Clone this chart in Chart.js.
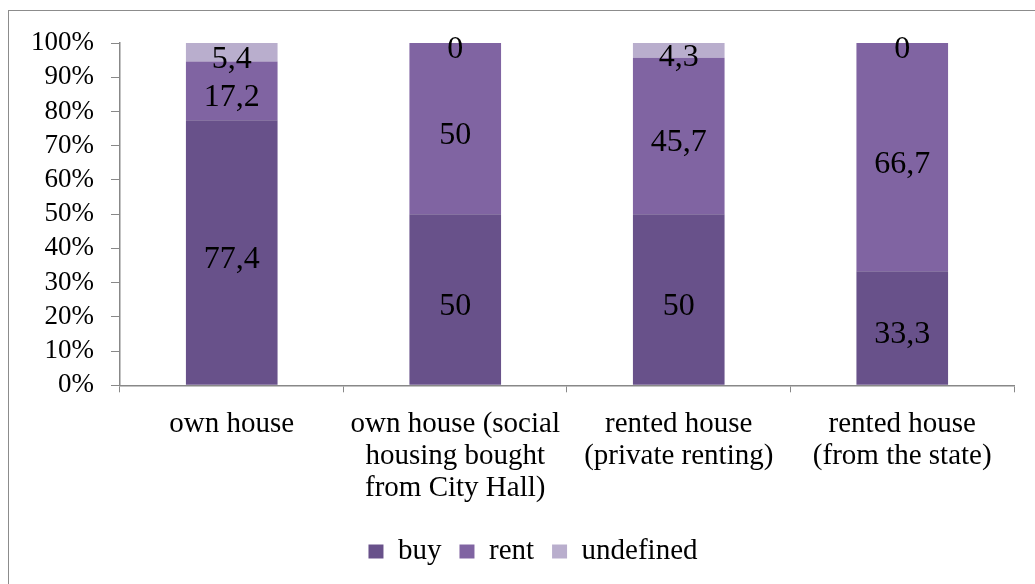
<!DOCTYPE html>
<html>
<head>
<meta charset="utf-8">
<script src="https://cdn.jsdelivr.net/npm/chart.js@4.4.0/dist/chart.umd.min.js"></script>
<style>
  html,body{margin:0;padding:0;background:#fff;overflow:hidden}
  #frame{position:absolute;left:8px;top:10px;width:1040px;height:590px;border:1.5px solid #8c8c8c;box-sizing:border-box}
  #c{position:absolute;left:0;top:0}
</style>
</head>
<body>
<div id="frame"></div>
<canvas id="c" width="1035" height="584"></canvas>
<script>
const categories = [
  'own house',
  ['own house (social', 'housing bought', 'from City Hall)'],
  ['rented house', '(private renting)'],
  ['rented house', '(from the state)']
];
const buy = [77.4, 50, 50, 33.3];
const rent = [17.2, 50, 45.7, 66.7];
const undef = [5.4, 0, 4.3, 0];
const yTicks = [0, 10, 20, 30, 40, 50, 60, 70, 80, 90, 100];

const FONT = '"Liberation Serif", "Times New Roman", serif';
const fmt = (v) => String(v).replace('.', ',');

// draws the value of each segment in its middle
const segLabels = {
  id: 'segLabels',
  afterLayout(chart) {
    // legend sits a little right of centre in the original
    chart.legend.left += 38;
  },
  afterDatasetsDraw(chart) {
    const ctx = chart.ctx;
    ctx.save();
    ctx.font = '32px ' + FONT;
    ctx.fillStyle = '#000';
    ctx.textAlign = 'center';
    ctx.textBaseline = 'middle';
    chart.data.datasets.forEach((ds, i) => {
      const meta = chart.getDatasetMeta(i);
      meta.data.forEach((bar, j) => {
        const p = bar.getProps(['x', 'y', 'base'], true);
        ctx.fillText(fmt(ds.data[j]), p.x, (p.y + p.base) / 2 + 7);
      });
    });
    ctx.restore();
  }
};

Chart.defaults.font.family = FONT;
Chart.defaults.color = '#000';

new Chart(document.getElementById('c'), {
  type: 'bar',
  data: {
    labels: categories,
    datasets: [
      { label: 'buy', data: buy, backgroundColor: '#68518a' },
      { label: 'rent', data: rent, backgroundColor: '#8064a2' },
      { label: 'undefined', data: undef, backgroundColor: '#b9aecd' }
    ]
  },
  options: {
    responsive: false,
    animation: false,
    barPercentage: 0.41,
    categoryPercentage: 1,
    layout: { padding: { top: 43, left: 14, right: 21, bottom: 8 } },
    plugins: {
      legend: {
        position: 'bottom',
        labels: { font: { size: 29 }, boxWidth: 15, boxHeight: 14, padding: 18 }
      },
      tooltip: { enabled: false }
    },
    scales: {
      x: {
        stacked: true,
        afterFit: (ax) => { ax.height -= 1; },
        grid: { drawOnChartArea: false, tickLength: 7, color: '#888', offset: true },
        border: { color: '#888', width: 1.5 },
        ticks: { font: { size: 29, lineHeight: 1.1 }, padding: 16, maxRotation: 0 }
      },
      y: {
        stacked: true,
        min: 0,
        max: 100,
        afterBuildTicks: (ax) => { ax.ticks = yTicks.map(v => ({ value: v })); },
        grid: { drawOnChartArea: false, tickLength: 9, color: '#888' },
        border: { color: '#888', width: 1.5 },
        ticks: { font: { size: 27 }, padding: 17, autoSkip: false, callback: (v) => v + '%' }
      }
    }
  },
  plugins: [segLabels]
});
</script>
</body>
</html>
